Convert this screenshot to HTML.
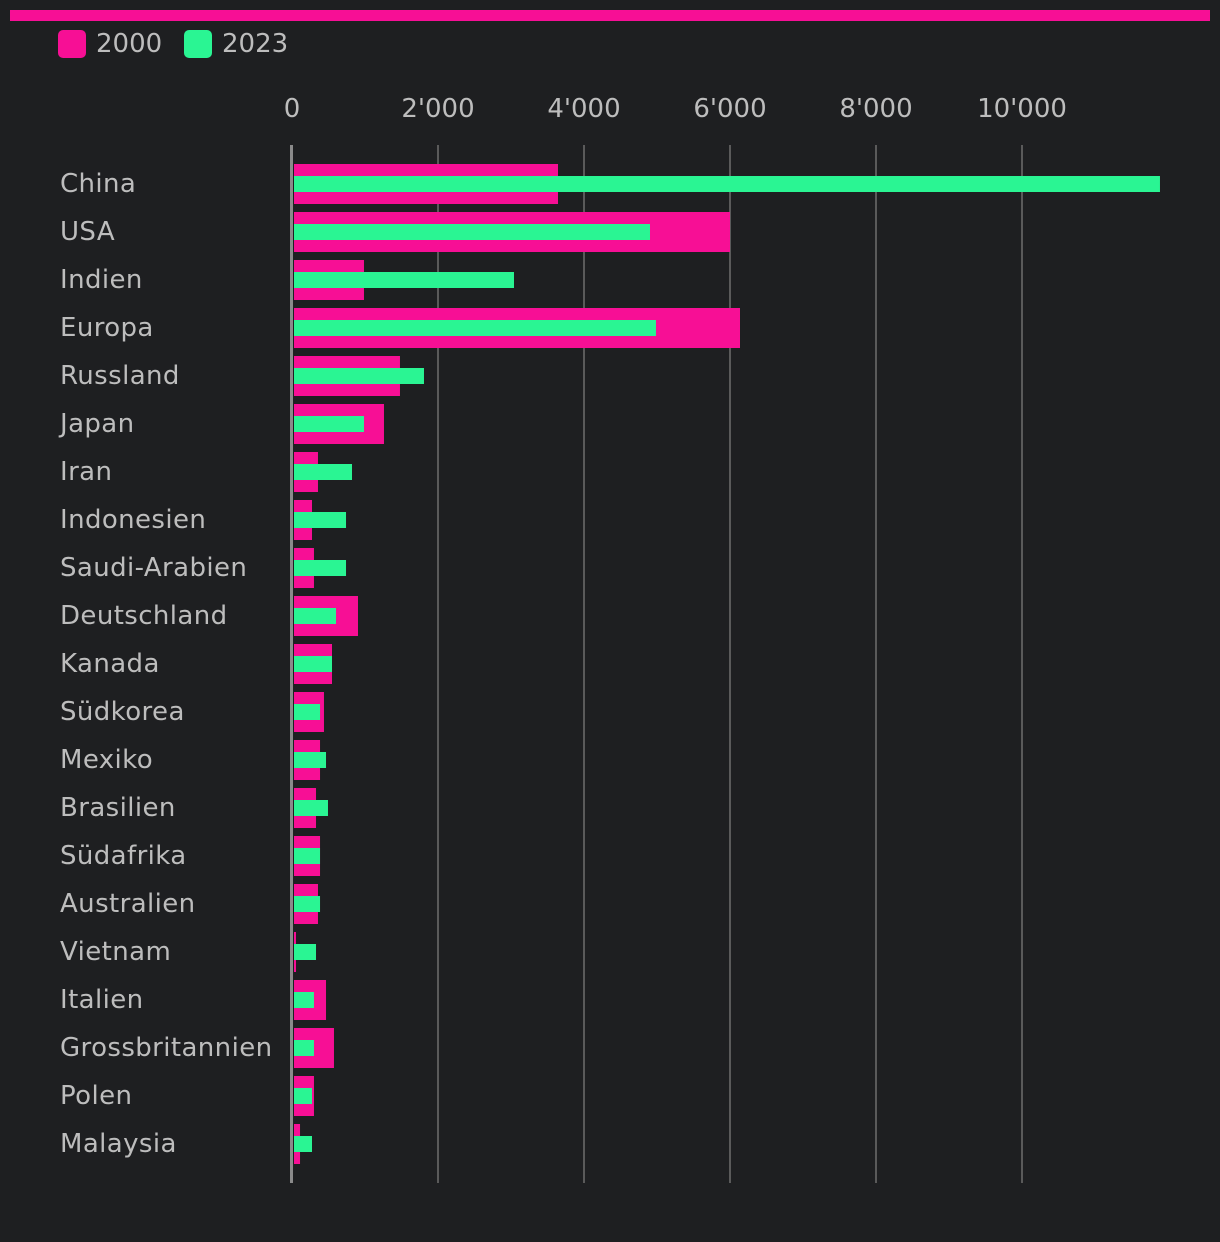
<!DOCTYPE html>
<html style="margin:0;overflow:hidden;height:1242px"><head><meta charset="utf-8"><style>
body{margin:0;background:#1e1f21;width:1220px;height:1242px;overflow:hidden;font-family:"DejaVu Sans","Liberation Sans",sans-serif}
svg{display:block}
svg text{fill:#bdbdbd}
</style></head><body>
<svg id="c" width="1220" height="1242">
<rect x="10" y="10" width="1200" height="11" fill="#f70f95"/>
<g>
<rect x="58" y="30" width="28" height="28" rx="5" fill="#f70f95"/>
<text x="96" y="52" font-size="26">2000</text>
<rect x="184" y="30" width="28" height="28" rx="5" fill="#2af593"/>
<text x="222" y="52" font-size="26">2023</text>
</g>
<g id="grid"></g><g id="bars"></g>
<rect x="290" y="145" width="3" height="1038" fill="#8a8a8a"/>
</svg>
<script>
const categories=["China","USA","Indien","Europa","Russland","Japan","Iran","Indonesien","Saudi-Arabien","Deutschland","Kanada","Südkorea","Mexiko","Brasilien","Südafrika","Australien","Vietnam","Italien","Grossbritannien","Polen","Malaysia"];
const values2000=[3644,6000,986,6137,1479,1260,356,274,301,904,548,438,384,329,384,356,55,466,575,301,110];
const values2023=[11890,4904,3041,4986,1808,986,822,740,740,603,548,384,466,493,384,384,329,301,301,274,274];
const ticks=[0,2000,4000,6000,8000,10000];
const tickLabels=["0","2'000","4'000","6'000","8'000","10'000"];
const NS="http://www.w3.org/2000/svg";
const x=v=>292+v*0.073;
const yc=i=>183+i*48;
function mk(t,a,p){const e=document.createElementNS(NS,t);for(const k in a)e.setAttribute(k,a[k]);p.appendChild(e);return e;}
const g=document.getElementById('grid'),b=document.getElementById('bars');
ticks.forEach((t,i)=>{
 if(t>0){const l=mk('line',{x1:x(t),x2:x(t),y1:145,y2:1183,stroke:'#5a5a5a','stroke-width':2},g);
 
 }
 const tx=mk('text',{x:x(t),y:117,'font-size':26,'text-anchor':'middle'},g);tx.textContent=tickLabels[i];
 
 
});
categories.forEach((c,i)=>{
 const t=mk('text',{x:60,y:yc(i)+9,'font-size':26,'letter-spacing':0.4},b);t.textContent=c;
 
 
 const r1=mk('rect',{x:294,y:yc(i)-19,width:Math.max(0,x(values2000[i])-294),height:40,fill:'#f70f95'},b);
 
 
 const r2=mk('rect',{x:294,y:yc(i)-7,width:Math.max(0,x(values2023[i])-294),height:16,fill:'#2af593'},b);
 
 
});
</script>
</body></html>
